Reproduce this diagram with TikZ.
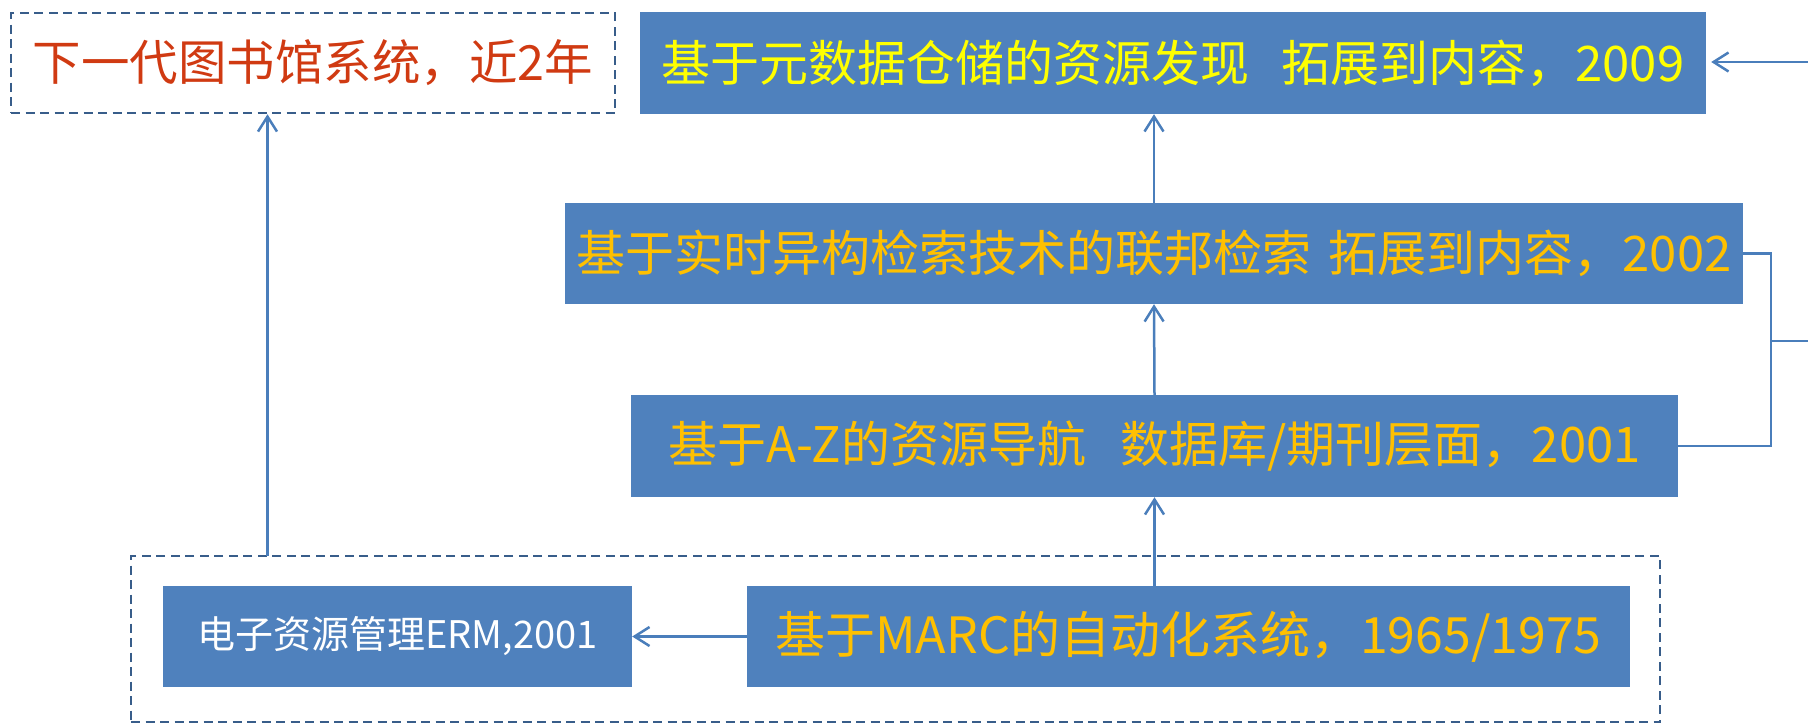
\documentclass[tikz,border=0pt]{standalone}
\usepackage{fontspec}
\setmainfont{Noto Sans CJK SC}
\usetikzlibrary{arrows.meta,calc}
\definecolor{boxfill}{HTML}{4F81BD}
\definecolor{linec}{HTML}{4A7EBB}
\definecolor{dashc}{RGB}{56,93,138}
\definecolor{yel}{HTML}{FFFF00}
\definecolor{org}{HTML}{FFC000}
\definecolor{redt}{RGB}{208,58,18}
\tikzset{
  bluebox/.style={fill=boxfill,draw=none,inner sep=0pt,align=center,font=\fontsize{49}{52}\selectfont},
  dashbox/.style={draw=dashc,line width=2.5pt,dash pattern=on 9pt off 5.5pt,inner sep=0pt},
  conn/.style={draw=linec,line width=2.5pt},
  arr/.style={conn,-{Straight Barb[length=15pt,width=19pt,line width=2.5pt]}}
}
\begin{document}
\begin{tikzpicture}[x=1pt,y=-1pt]
\useasboundingbox (0,0) rectangle (1808,723);
% nodes
\node[dashbox,minimum width=604pt,minimum height=100pt,text=redt,font=\fontsize{48.5}{52}\selectfont] (next) at (313,63) {下一代图书馆系统，近2年};
\node[bluebox,text=yel,minimum width=1066pt,minimum height=102pt] (meta) at (1173,63) {基于元数据仓储的资源发现\hspace{0.65em}拓展到内容，2009};
\node[bluebox,text=org,minimum width=1178pt,minimum height=101pt] (fed) at (1154,253.5) {基于实时异构检索技术的联邦检索\hspace{0.35em}拓展到内容，2002};
\node[bluebox,text=org,minimum width=1047pt,minimum height=102pt] (az) at (1154.5,446) {基于A-Z的资源导航\hspace{0.7em}数据库/期刊层面，2001};
\node[dashbox,minimum width=1529pt,minimum height=166pt] (group) at (895.5,639) {};
\node[bluebox,text=white,minimum width=469pt,minimum height=101pt,font=\fontsize{38}{40}\selectfont] (erm) at (397.5,636.5) {电子资源管理ERM,2001};
\node[bluebox,text=org,minimum width=883pt,minimum height=101pt,font=\fontsize{50}{52}\selectfont] (marc) at (1188.5,636.5) {基于MARC的自动化系统，1965/1975};
% coordinates
\coordinate (gtop) at (267.5,556);
\coordinate (rin) at (1808,62);
\coordinate (jx) at (1771,341);
\coordinate (rout) at (1808,341);
% connectors
\draw[arr] (marc.west) -- (erm.east);
\draw[arr] (az.south |- marc.north) -- (az.south);
\draw[arr] (az.north) -- (fed.south);
\draw[arr] (fed.north) -- (fed.north |- meta.south);
\draw[arr] (gtop) -- (gtop |- next.south);
\draw[arr,shorten >=5pt] (rin) -- (meta.east |- rin);
\draw[conn] (fed.east) -| (jx) |- (az.east);
\draw[conn] (jx) -- (rout);
\end{tikzpicture}
\end{document}
